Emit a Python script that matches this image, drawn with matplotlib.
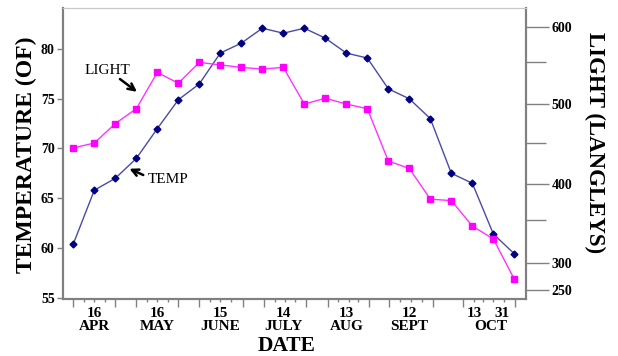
import numpy as np
import matplotlib
matplotlib.use("Agg")
import matplotlib.pyplot as plt

plt.rcParams['font.family'] = ['Liberation Serif', 'DejaVu Serif']

# sample index (roughly every 10 days, starting early April)
idx = list(range(22))
temp = [60.4, 65.8, 67.0, 69.0, 72.0, 74.9, 76.5, 79.6, 80.6, 82.1, 81.6,
        82.1, 81.1, 79.6, 79.1, 76.0, 75.0, 73.0, 67.5, 66.5, 61.4, 59.4]
light = [444, 450, 475, 494, 538, 525, 550, 547, 544, 542, 544,
         500, 507, 500, 494, 428, 419, 379, 377, 343, 328, 270]

day_labels = ["16", "16", "15", "14", "13", "12"]
month_labels = ["APR", "MAY", "JUNE", "JULY", "AUG", "SEPT"]
label_pos = [1, 4, 7, 10, 13, 16]

# right axis of the original is not linear: langleys -> temperature scale
light_ticks = [200, 250, 300, 350, 400, 450, 500, 550, 600, 650]
light_on_temp = [53.03, 55.75, 58.47, 62.80, 66.42, 70.55, 74.47, 78.66, 82.22, 85.78]


def fwd(v):
    return np.interp(v, light_ticks, light_on_temp)


def inv(v):
    return np.interp(v, light_on_temp, light_ticks)


fig = plt.figure(figsize=(6.18, 3.56), dpi=100)
ax = fig.add_axes([0.102, 0.160, 0.7486, 0.8174])
ax2 = ax.twinx()

ax.plot(idx, temp, color="#4a4aa8", lw=1, marker="D", ms=3.5,
        mfc="#000080", mec="#000080", zorder=3)
ax2.plot(idx, light, color="#ff33ff", lw=1, marker="s", ms=4.5,
         mfc="#ff00ff", mec="#ff00ff", zorder=2)

ax.set_xlim(-0.49, 21.54)
ax.set_ylim(54.85, 84.13)
ax2.set_yscale("function", functions=(fwd, inv))
ax2.set_ylim(inv(54.85), inv(84.13))

gray = "#808080"
for a in (ax, ax2):
    for side in ("left", "bottom"):
        a.spines[side].set_color(gray)
        a.spines[side].set_linewidth(1.5)
    a.spines["top"].set_color("#c8c8c8")
    a.spines["right"].set_color(gray)
    a.spines["right"].set_linewidth(1.5)

# left axis
ax.set_yticks([55, 60, 65, 70, 75, 80])
ax.tick_params(axis="y", length=4, width=1, color=gray, pad=2,
               labelsize=10)
for t in ax.get_yticklabels():
    t.set_fontweight("bold")

# x ticks: groups of five per month
major_x = [0, 2, 3, 5, 6, 8.07, 9.08, 11.08, 12.14, 14.08, 15.03, 17.14, 18.54, 21.02]
minor_x = [0.5, 1, 1.5, 3.5, 4, 4.5, 6.5, 7, 7.5, 9.6, 10.08, 10.56,
           12.6, 13.13, 13.56, 15.55, 16.07, 16.59, 19.08, 19.5, 19.98, 20.5]
ax.set_xticks(major_x)
ax.set_xticks(minor_x, minor=True)
ax.set_xticklabels([])
ax.tick_params(axis="x", which="major", length=5.5, width=1, color=gray)
ax.tick_params(axis="x", which="minor", length=2.5, width=1, color=gray)

xt = ax.get_xaxis_transform()
lab = dict(transform=xt, ha="center", va="center", fontsize=11,
           fontweight="bold")
for p, d, m in zip(label_pos, day_labels, month_labels):
    ax.text(p, -0.050, d, **lab)
    ax.text(p, -0.094, m, **lab)
ax.text(19.1, -0.050, "13", **lab)
ax.text(20.4, -0.050, "31", **lab)
ax.text(19.86, -0.094, "OCT", **lab)

# right axis
ax2.set_yticks([250, 300, 400, 500, 600])
ax2.set_yticks([350, 450, 550], minor=True)
ax2.yaxis.set_major_formatter(matplotlib.ticker.FormatStrFormatter("%d"))
ax2.yaxis.set_minor_formatter(matplotlib.ticker.NullFormatter())
ax2.tick_params(axis="y", which="major", length=16.5, width=1, color=gray,
                pad=2, labelsize=10)
ax2.tick_params(axis="y", which="minor", length=14.5, width=1, color=gray)
for t in ax2.get_yticklabels():
    t.set_fontweight("bold")

# axis titles
fig.text(26 / 618, 1 - 155 / 356, "TEMPERATURE (OF)", rotation=90,
         ha="center", va="center", fontsize=17, fontweight="bold")
fig.text(595 / 618, 1 - 143 / 356, "LIGHT (LANGLEYS)", rotation=-90,
         ha="center", va="center", fontsize=16.5, fontweight="bold")
fig.text(287 / 618, 1 - 346 / 356, "DATE", ha="center", va="center",
         fontsize=15.5, fontweight="bold")

# series annotations
ax.text(1.63, 77.82, "LIGHT", ha="center", va="center", fontsize=11)
ax.annotate("", xy=(3.03, 75.7), xytext=(2.22, 76.99),
            arrowprops=dict(arrowstyle="->", lw=1.8, color="black",
                            mutation_scale=12, shrinkA=0, shrinkB=0))
ax.text(4.52, 66.9, "TEMP", ha="center", va="center", fontsize=11)
ax.annotate("", xy=(2.67, 67.96), xytext=(3.33, 67.33),
            arrowprops=dict(arrowstyle="->", lw=1.8, color="black",
                            mutation_scale=12, shrinkA=0, shrinkB=0))

fig.savefig("out.png", dpi=100)
